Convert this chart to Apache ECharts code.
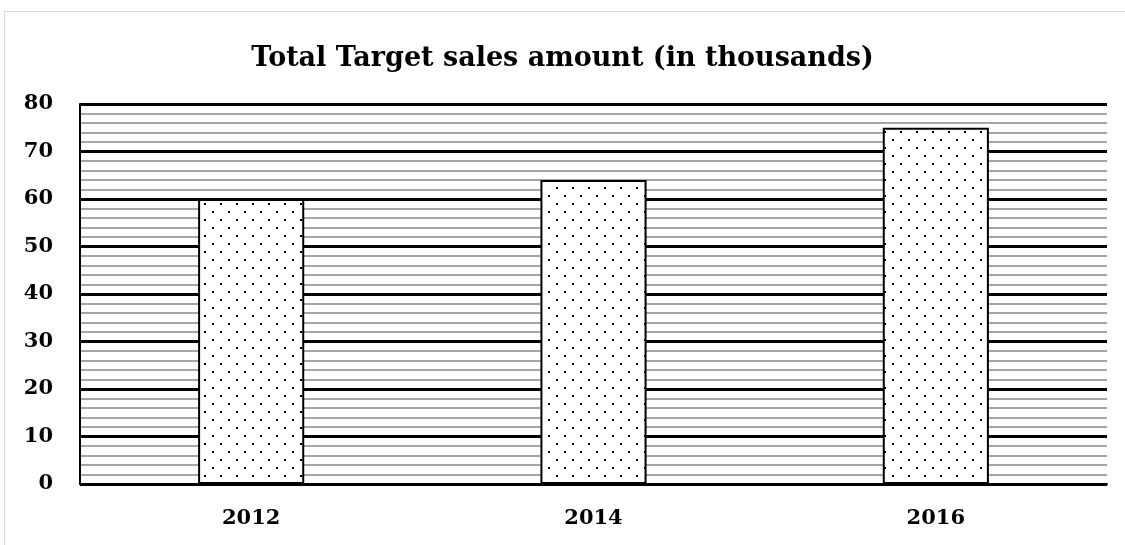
<!DOCTYPE html>
<html><head><meta charset="utf-8">
<script src="https://cdn.jsdelivr.net/npm/echarts@6/dist/echarts.min.js"></script>
<style>html,body{margin:0;padding:0;background:#fff}#c{width:1125px;height:545px}</style>
</head><body><div id="c"></div>
<script>
const categories = ['2012', '2014', '2016'];
const salesValues = [60, 64, 75];
const yTicks = [0, 10, 20, 30, 40, 50, 60, 70, 80];

const pat = document.createElement('canvas');
pat.width = 16; pat.height = 16;
const ctx = pat.getContext('2d');
ctx.fillStyle = '#fff'; ctx.fillRect(0, 0, 16, 16);
ctx.fillStyle = '#000';
ctx.fillRect(4, 3, 2, 2);
ctx.fillRect(12, 11, 2, 2);

const font = 'DejaVu Serif';
const chart = echarts.init(document.getElementById('c'));
chart.setOption({
  animation: false,
  title: {
    text: 'Total Target sales amount (in thousands)',
    left: 'center', top: 40,
    textStyle: { fontFamily: font, fontWeight: 'bold', fontSize: 27, color: '#000' }
  },
  graphic: [{
    type: 'rect', shape: { x: 4.5, y: 11.5, width: 1130, height: 600 },
    style: { fill: 'none', stroke: '#d9d9d9', lineWidth: 1 }, z: -10
  }],
  grid: { left: 80, right: 18, top: 104, bottom: 61 },
  xAxis: {
    type: 'category', data: categories,
    axisLine: { lineStyle: { color: '#000', width: 2 } },
    axisTick: { show: false },
    axisLabel: { fontFamily: font, fontWeight: 'bold', fontSize: 21, color: '#000', margin: 24 }
  },
  yAxis: {
    type: 'value', min: yTicks[0], max: yTicks[yTicks.length - 1], interval: 10,
    axisLine: { show: true, lineStyle: { color: '#000', width: 2 } },
    axisTick: { show: false },
    axisLabel: { fontFamily: font, fontWeight: 'bold', fontSize: 21, color: '#000', margin: 27 },
    splitLine: { lineStyle: { color: '#000', width: 3 } },
    minorTick: { show: false, splitNumber: 5 },
    minorSplitLine: { show: true, lineStyle: { color: '#a6a6a6', width: 2 } }
  },
  series: [{
    type: 'bar', data: salesValues, barWidth: '31%',
    itemStyle: { color: { image: pat, repeat: 'repeat' }, borderColor: '#000', borderWidth: 2 }
  }]
});
</script></body></html>
